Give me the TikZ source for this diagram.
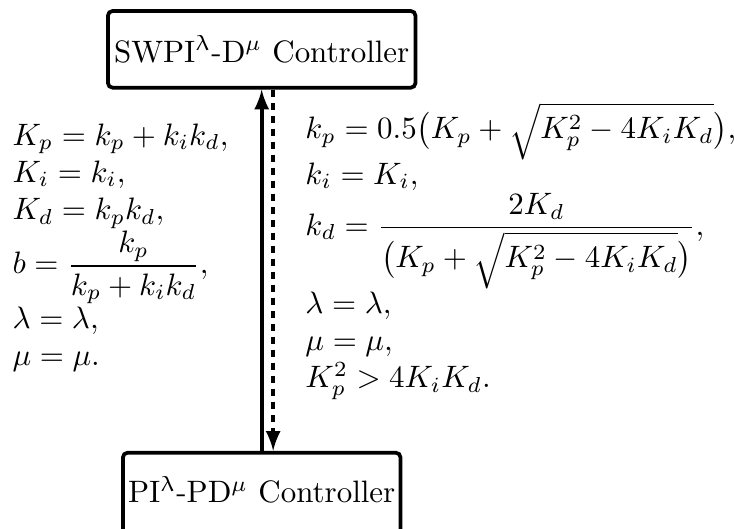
\documentclass[tikz,border=0pt]{standalone}
\usepackage{amsmath}
\usepackage{upgreek}
\begin{document}
\begin{tikzpicture}
[font=\normalsize, >=latex]
\tikzstyle{ctrl}=[draw, line width=1.2pt, rounded corners=1.5pt, inner sep=0pt]
\tikzstyle{eqs}=[align=left, inner sep=0pt]
\useasboundingbox (0,0) rectangle (8.33,6.0);
\node[ctrl, minimum width=3.49cm, minimum height=0.87cm]	(SW)	at (2.97,5.44)	{SWPI$^{\uplambda}$-D$^{\mu}$ Controller};
\node[ctrl, minimum width=3.15cm, text height=0.567cm, text depth=0.6cm, anchor=base]	(PI)	at (2.97,0.295)	{PI$^{\uplambda}$-PD$^{\mu}$ Controller};
\coordinate (up)	at (2.97,0);
\coordinate (down)	at (3.10,0);
\node[eqs, anchor=west]	(L)	at (0.136,3.19)	{$K_p=k_p+k_ik_d,$\\ $K_i=k_i,$\\ $K_d=k_pk_d,$\\ $b=\dfrac{k_p}{k_p+k_ik_d},$\\ $\lambda=\lambda,$\\ $\mu=\mu.$};
\node[eqs, anchor=west]	(R)	at (3.46,3.15)	{$k_p=0.5\big(K_p+\sqrt{K_p^2-4K_iK_d}\big),$\\ $k_i=K_i,$\\ $k_d=\dfrac{2K_d}{\big(K_p+\sqrt{K_p^2-4K_iK_d}\big)},$\\ $\lambda=\lambda,$\\ $\mu=\mu,$\\ $K_p^2>4K_iK_d.$};

\draw[very thick, ->]	(PI.north -| up) -- (SW.south -| up);
\draw[very thick, dash pattern=on 2.4pt off 1.8pt, ->]	(SW.south -| down) -- (PI.north -| down);
\end{tikzpicture}
\end{document}
